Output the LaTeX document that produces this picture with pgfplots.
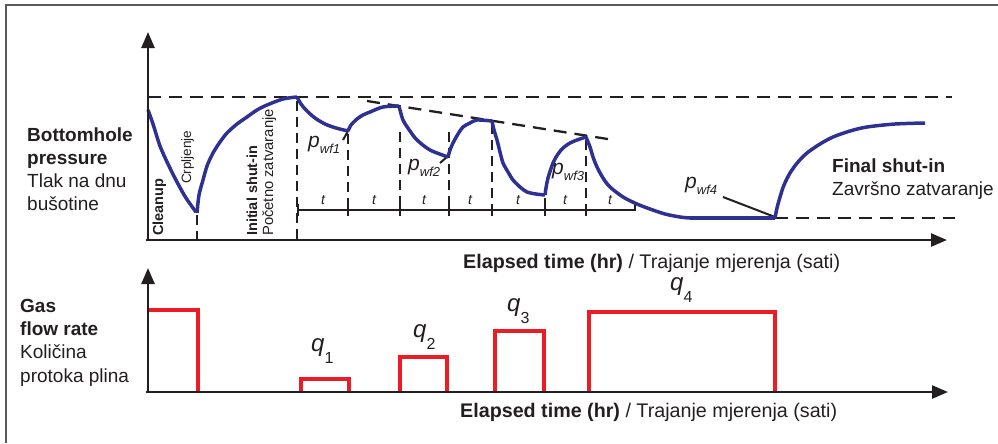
\documentclass[border=0pt]{standalone}
\usepackage{pgfplots}
\pgfplotsset{compat=1.18}
\usepackage{fontspec}
\setmainfont{Liberation Sans}
\usetikzlibrary{arrows.meta}
\definecolor{ink}{HTML}{231F20}
\definecolor{pblue}{HTML}{2E3192}
\definecolor{qred}{HTML}{ED1C24}
\newcommand\fs[1]{\fontsize{#1}{#1}\selectfont}
\newcommand\sub[1]{\raisebox{-0.3em}{\fs{13bp}\textit{#1}}}
\newcommand\qsub[1]{\raisebox{-0.5em}{\fs{16bp}#1}}
\begin{document}
\begin{tikzpicture}
\begin{axis}[
    scale only axis,
    width=998bp, height=443bp,
    xmin=0, xmax=998, ymin=0, ymax=443,
    y dir=reverse,
    hide axis,
    clip=false,
    every axis plot/.append style={no markers},
]
% outer frame
\addplot[gray!70!black, line width=2bp] coordinates {(6,443) (6,5.5) (998,5.5)};

% ---- pressure panel: guide lines
\addplot[ink, line width=2.3bp, dash pattern=on 13bp off 8bp] coordinates {(148,97) (952,97)};
\addplot[ink, line width=2.3bp, dash pattern=on 13bp off 8bp] coordinates {(367,101) (614,140)};
\addplot[ink, line width=2.3bp, dash pattern=on 13bp off 8bp] coordinates {(775,218) (955,218)};
\addplot[ink, line width=2.3bp, dash pattern=on 10bp off 6bp] coordinates {(197,215) (197,240)};
\addplot[ink, line width=2.3bp, dash pattern=on 10bp off 6bp] coordinates {(297,101) (297,240)};
\addplot[ink, line width=2.3bp, dash pattern=on 10bp off 6bp] coordinates {(348,134) (348,210)};
\addplot[ink, line width=2.3bp, dash pattern=on 10bp off 6bp] coordinates {(400,132) (400,210)};
\addplot[ink, line width=2.3bp, dash pattern=on 10bp off 6bp] coordinates {(449,132) (449,210)};
\addplot[ink, line width=2.3bp, dash pattern=on 10bp off 6bp] coordinates {(492,124) (492,210)};
\addplot[ink, line width=2.3bp, dash pattern=on 10bp off 6bp] coordinates {(545,198) (545,210)};
\addplot[ink, line width=2.3bp, dash pattern=on 10bp off 6bp] coordinates {(586,140) (586,210)};

% time scale
\addplot[ink, line width=2bp] coordinates {(298,210) (635,210)};
\addplot[ink, line width=2bp] coordinates {(298,204) (298,216)};
\addplot[ink, line width=2bp] coordinates {(348,204) (348,216)};
\addplot[ink, line width=2bp] coordinates {(400,204) (400,216)};
\addplot[ink, line width=2bp] coordinates {(449,204) (449,216)};
\addplot[ink, line width=2bp] coordinates {(492,204) (492,216)};
\addplot[ink, line width=2bp] coordinates {(545,204) (545,216)};
\addplot[ink, line width=2bp] coordinates {(586,204) (586,216)};
\addplot[ink, line width=2bp] coordinates {(635,203) (635,211)};

% leader lines
\addplot[ink, line width=2bp] coordinates {(343,140) (348,131)};
\addplot[ink, line width=2bp] coordinates {(440,163) (448,156)};
\addplot[ink, line width=2bp] coordinates {(723,197) (775,217)};

% ---- bottomhole pressure
\addplot[pblue, line width=3.5bp, smooth] coordinates {(148,110) (153,124) (160,146) (168,164) (177,182) (186,198) (196,212)};
\addplot[pblue, line width=3.5bp, smooth] coordinates {(197,213) (199,195) (203,180) (207,166) (213,153) (220,142) (227,133) (237,124) (247,117) (257,110) (267,105) (283,99) (297,97)};
\addplot[pblue, line width=3.5bp, smooth] coordinates {(297,97) (301,104) (307,111) (315,118) (325,124) (336,128) (348,131)};
\addplot[pblue, line width=3.5bp, smooth] coordinates {(348,131) (351,125) (357,119) (363,115) (370,112) (383,107) (399,106)};
\addplot[pblue, line width=3.5bp, smooth] coordinates {(399,106) (403,120) (410,131) (417,140) (430,150) (448,157)};
\addplot[pblue, line width=3.5bp, smooth] coordinates {(448,157) (450,150) (453,143) (458,134) (463,127) (470,123) (477,120) (492,121)};
\addplot[pblue, line width=3.5bp, smooth] coordinates {(492,121) (494,130) (497,140) (500,152) (503,163) (508,172) (513,180) (520,187) (527,192) (536,194) (545,195)};
\addplot[pblue, line width=3.5bp, smooth] coordinates {(545,195) (546,188) (548,178) (553,163) (558,154) (563,148) (570,143) (577,140) (586,137)};
\addplot[pblue, line width=3.5bp, smooth] coordinates {(586,137) (590,147) (593,157) (597,167) (603,178) (610,187) (623,197) (637,204) (650,209) (665,214) (680,217) (690,218)};
\addplot[pblue, line width=3.5bp] coordinates {(690,218) (775,218)};
\addplot[pblue, line width=3.5bp, smooth] coordinates {(775,218) (777,208) (780,197) (784,185) (790,173) (798,162) (807,153) (820,144) (833,137) (850,131) (867,127) (895,124) (925,123)};

% axes of pressure panel
\addplot[ink, line width=2.5bp, -{Triangle[length=16bp,width=13bp]}] coordinates {(148,241) (148,32)};
\addplot[ink, line width=2.5bp, -{Triangle[length=16bp,width=13bp]}] coordinates {(146,240) (947,240)};

% ---- gas flow rate
\addplot[qred, line width=3.5bp] coordinates {(148,310) (198,310) (198,392)};
\addplot[qred, line width=3.5bp] coordinates {(301,392) (301,379) (349,379) (349,392)};
\addplot[qred, line width=3.5bp] coordinates {(400,392) (400,357) (447,357) (447,392)};
\addplot[qred, line width=3.5bp] coordinates {(495,392) (495,331) (544,331) (544,392)};
\addplot[qred, line width=3.5bp] coordinates {(589,392) (589,312) (775,312) (775,392)};
\addplot[ink, line width=2.5bp, -{Triangle[length=16bp,width=13bp]}] coordinates {(148,393) (148,268)};
\addplot[ink, line width=2.5bp, -{Triangle[length=16bp,width=13bp]}] coordinates {(146,392) (948,392)};

% ---- texts
\begin{scope}[every node/.style={text=ink, inner sep=0pt}]
\node[anchor=base west, font=\fs{19bp}\bfseries] at (axis cs:27,141) {Bottomhole};
\node[anchor=base west, font=\fs{19bp}\bfseries] at (axis cs:27,164) {pressure};
\node[anchor=base west, font=\fs{19bp}] at (axis cs:27,187) {Tlak na dnu};
\node[anchor=base west, font=\fs{19bp}] at (axis cs:27,210) {bušotine};

\node[anchor=base west, font=\fs{19bp}\bfseries] at (axis cs:20,312) {Gas};
\node[anchor=base west, font=\fs{19bp}\bfseries] at (axis cs:20,335) {flow rate};
\node[anchor=base west, font=\fs{19bp}] at (axis cs:20,358) {Količina};
\node[anchor=base west, font=\fs{19bp}] at (axis cs:20,382) {protoka plina};

\node[anchor=base west, font=\fs{19.7bp}] at (axis cs:463,268) {\textbf{Elapsed time (hr)} / Trajanje mjerenja (sati)};
\node[anchor=base west, font=\fs{19.7bp}] at (axis cs:460,417) {\textbf{Elapsed time (hr)} / Trajanje mjerenja (sati)};

\node[anchor=base west, font=\fs{19bp}\bfseries] at (axis cs:832,172) {Final shut-in};
\node[anchor=base west, font=\fs{19bp}] at (axis cs:832,195) {Završno zatvaranje};

\node[anchor=base west, rotate=90, font=\fs{14.5bp}\bfseries] at (axis cs:163,236) {Cleanup};
\node[anchor=base west, rotate=90, font=\fs{13.5bp}] at (axis cs:191,184) {Crpljenje};
\node[anchor=base west, rotate=90, font=\fs{14.5bp}\bfseries] at (axis cs:257,236) {Initial shut-in};
\node[anchor=base west, rotate=90, font=\fs{14.8bp}] at (axis cs:273,236) {Početno zatvaranje};

\node[anchor=base, font=\fs{14bp}\itshape] at (axis cs:323,204) {t};
\node[anchor=base, font=\fs{14bp}\itshape] at (axis cs:374,204) {t};
\node[anchor=base, font=\fs{14bp}\itshape] at (axis cs:424,204) {t};
\node[anchor=base, font=\fs{14bp}\itshape] at (axis cs:470,204) {t};
\node[anchor=base, font=\fs{14bp}\itshape] at (axis cs:518,204) {t};
\node[anchor=base, font=\fs{14bp}\itshape] at (axis cs:565,204) {t};
\node[anchor=base, font=\fs{14bp}\itshape] at (axis cs:610,204) {t};

\node[anchor=base west, font=\fs{21bp}] at (axis cs:308,147) {\textit{p}\sub{wf1}};
\node[anchor=base west, font=\fs{21bp}] at (axis cs:408,170) {\textit{p}\sub{wf2}};
\node[anchor=base west, font=\fs{21bp}] at (axis cs:552,174) {\textit{p}\sub{wf3}};
\node[anchor=base west, font=\fs{21bp}] at (axis cs:685,188) {\textit{p}\sub{wf4}};

\node[anchor=base west, font=\fs{24bp}] at (axis cs:311,351) {\textit{q}\qsub{1}};
\node[anchor=base west, font=\fs{24bp}] at (axis cs:413,337) {\textit{q}\qsub{2}};
\node[anchor=base west, font=\fs{24bp}] at (axis cs:507,311) {\textit{q}\qsub{3}};
\node[anchor=base west, font=\fs{24bp}] at (axis cs:670,290) {\textit{q}\qsub{4}};
\end{scope}
\end{axis}
\pgfresetboundingbox
\path (current axis.south west) rectangle (current axis.north east);
\end{tikzpicture}
\end{document}
